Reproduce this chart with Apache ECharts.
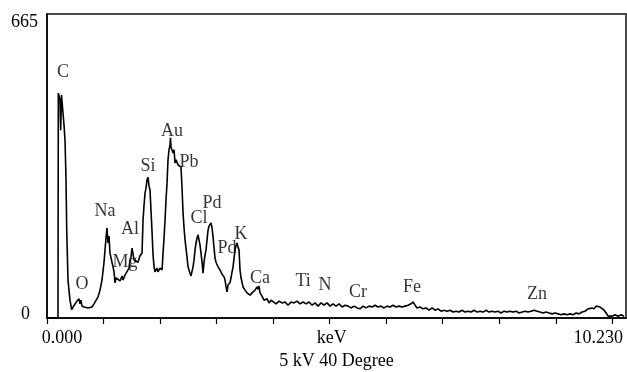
<!DOCTYPE html>
<html>
<head>
<meta charset="utf-8">
<script src="https://cdn.jsdelivr.net/npm/echarts@6/dist/echarts.min.js"></script>
<style>
  html, body { margin: 0; padding: 0; background: #fff; }
  #chart { width: 627px; height: 372px; }
</style>
</head>
<body>
<div id="chart"></div>
<script>
// spectrum (keV, count)
const energy = [
  0, 0.199, 0.205, 0.217, 0.235, 0.248, 0.262, 0.281, 0.290, 0.308, 0.326, 0.335, 0.344, 0.357, 0.380, 0.416, 0.447, 0.471, 0.507,
  0.543, 0.561, 0.579, 0.597, 0.615, 0.633, 0.670, 0.706, 0.742, 0.778, 0.814, 0.851, 0.887, 0.923, 0.959, 0.995,
  1.032, 1.050, 1.068, 1.086, 1.104, 1.122, 1.140, 1.176, 1.195, 1.213, 1.231, 1.249, 1.285, 1.321, 1.358, 1.376,
  1.412, 1.448, 1.484, 1.502, 1.520, 1.539, 1.557, 1.575, 1.611, 1.647, 1.683, 1.720, 1.738, 1.756, 1.774, 1.792,
  1.810, 1.828, 1.846, 1.864, 1.882, 1.901, 1.919, 1.937, 1.955, 1.991, 2.009, 2.045, 2.082, 2.100, 2.118, 2.136,
  2.154, 2.172, 2.190, 2.208, 2.226, 2.235, 2.244, 2.263, 2.281, 2.299, 2.317, 2.335, 2.371, 2.407, 2.425, 2.443,
  2.462, 2.480, 2.498, 2.534, 2.552, 2.570, 2.588, 2.606, 2.625, 2.643, 2.661, 2.679, 2.697, 2.715, 2.733, 2.751,
  2.769, 2.787, 2.806, 2.824, 2.842, 2.860, 2.878, 2.896, 2.914, 2.932, 2.950, 2.968, 2.987, 3.005, 3.023, 3.041,
  3.059, 3.077, 3.095, 3.131, 3.168, 3.204, 3.222, 3.240, 3.258, 3.276, 3.294, 3.312, 3.330, 3.349, 3.367, 3.385,
  3.403, 3.421, 3.439, 3.457, 3.475, 3.493, 3.511, 3.548, 3.584, 3.620, 3.656, 3.674, 3.710, 3.728, 3.765, 3.801,
  3.819, 3.837, 3.855, 3.891, 3.927, 3.945, 3.982, 4.018, 4.054, 4.090, 4.145, 4.199, 4.254, 4.308, 4.362, 4.416,
  4.471, 4.525, 4.579, 4.634, 4.688, 4.742, 4.797, 4.851, 4.905, 4.959, 5.014, 5.068, 5.122, 5.177, 5.231, 5.285,
  5.340, 5.394, 5.448, 5.502, 5.557, 5.611, 5.665, 5.720, 5.774, 5.828, 5.882, 5.937, 5.991, 6.045, 6.100, 6.154,
  6.208, 6.263, 6.317, 6.371, 6.426, 6.480, 6.534, 6.588, 6.625, 6.661, 6.697, 6.751, 6.806, 6.860, 6.914, 6.968,
  7.023, 7.077, 7.131, 7.186, 7.240, 7.294, 7.349, 7.403, 7.457, 7.512, 7.566, 7.620, 7.674, 7.729, 7.783, 7.837,
  7.892, 7.946, 8.000, 8.055, 8.109, 8.163, 8.217, 8.272, 8.326, 8.380, 8.435, 8.489, 8.543, 8.598, 8.652, 8.706,
  8.760, 8.815, 8.869, 8.923, 8.978, 9.032, 9.086, 9.141, 9.195, 9.249, 9.303, 9.358, 9.412, 9.466, 9.521, 9.575,
  9.629, 9.684, 9.738, 9.792, 9.828, 9.864, 9.901, 9.937, 9.973, 10.009, 10.045, 10.082, 10.118, 10.154, 10.190, 10.226,
  10.280, 10.335, 10.389, 10.443
];
const counts = [
  0, 0, 492, 494, 477, 411, 488, 492, 448, 422, 389, 346, 302, 192, 83, 39, 18, 24, 20,
  37, 33, 42, 31, 39, 26, 24, 28, 22, 26, 24, 31, 35, 46, 61, 83,
  122, 149, 175, 197, 164, 179, 142, 122, 112, 101, 77, 88, 90, 81, 92, 83,
  94, 98, 109, 127, 133, 153, 149, 127, 131, 122, 136, 142, 214, 247, 273, 284,
  302, 308, 289, 280, 236, 188, 138, 112, 101, 109, 101, 109, 105, 142, 175, 214,
  258, 295, 346, 368, 378, 394, 374, 378, 361, 368, 339, 346, 335, 339, 330, 287,
  230, 197, 171, 133, 112, 105, 98, 92, 88, 112, 127, 149, 164, 175, 182, 171,
  160, 142, 122, 98, 122, 138, 149, 171, 192, 201, 197, 208, 197, 177, 153, 131,
  122, 118, 112, 105, 96, 90, 83, 68, 57, 72, 68, 77, 88, 101, 112, 131,
  149, 158, 164, 155, 149, 105, 88, 68, 61, 55, 52, 50, 55, 57, 61, 68,
  63, 70, 55, 48, 39, 35, 42, 33, 39, 35, 31, 37, 33, 35, 28, 35,
  33, 37, 31, 35, 31, 35, 28, 33, 26, 33, 28, 33, 26, 31, 26, 31,
  24, 28, 26, 22, 26, 22, 20, 26, 22, 26, 24, 28, 24, 26, 22, 26,
  24, 28, 24, 26, 24, 26, 28, 31, 35, 28, 22, 24, 20, 22, 17, 22,
  17, 20, 15, 17, 15, 17, 13, 15, 13, 17, 13, 15, 13, 17, 13, 15,
  13, 17, 13, 15, 13, 15, 11, 15, 13, 15, 13, 15, 11, 13, 15, 13,
  15, 17, 15, 13, 11, 13, 11, 9, 11, 9, 7, 9, 7, 9, 7, 11,
  9, 13, 15, 20, 17, 22, 20, 26, 28, 24, 26, 17, 11, 4, 0, 4,
  7, 4, 7, 4
];

// element tags, placed at (keV, count)
const elementNames = ['C', 'O', 'Na', 'Mg', 'Al', 'Si', 'Au', 'Pb', 'Cl', 'Pd', 'Pd', 'K', 'Ca', 'Ti', 'N', 'Cr', 'Fe', 'Zn'];
const elementKeV = [0.290, 0.633, 1.050, 1.412, 1.502, 1.828, 2.263, 2.570, 2.751, 2.987, 3.258, 3.511, 3.855, 4.634, 5.032, 5.629, 6.607, 8.869];
const elementCount = [538, 74, 234, 122, 195, 332, 409, 341, 219, 252, 153, 184, 88, 81, 72, 57, 68, 53];

const xTickStep = 1.023;
const xMax = 10.478;
const yMax = 665;

const font = "'Liberation Serif', 'Times New Roman', serif";

const chart = echarts.init(document.getElementById('chart'), null, { renderer: 'canvas' });

const option = {
  backgroundColor: '#fff',
  animation: false,
  textStyle: { fontFamily: font },
  grid: {
    left: 47, right: 1, top: 14, bottom: 54,
    outerBoundsMode: 'none',
    containLabel: false,
    show: true, borderColor: '#4a4a4a', borderWidth: 2, backgroundColor: 'transparent'
  },
  xAxis: {
    type: 'value',
    min: 0, max: xMax, interval: xTickStep,
    name: '5 kV 40 Degree',
    nameLocation: 'middle',
    nameGap: 34,
    nameTextStyle: { fontFamily: font, fontSize: 18, color: '#000' },
    axisLine: { show: true, lineStyle: { color: '#000', width: 1.5 } },
    axisTick: { show: true, length: 6, lineStyle: { color: '#000', width: 1.2 } },
    splitLine: { show: false },
    axisLabel: {
      fontFamily: font, fontSize: 18, color: '#000', margin: 11,
      showMaxLabel: false,
      formatter: function (v) {
        const i = Math.round(v / xTickStep);
        if (i === 0) return '{l|0.000}';
        if (i === 5) return '{m|keV}';
        if (i === 10) return '{r|10.230}';
        return '';
      },
      rich: {
        l: { fontFamily: font, fontSize: 18, color: '#000', padding: [0, 0, 0, 30] },
        m: { fontFamily: font, fontSize: 18, color: '#000', padding: [0, 0, 0, 4] },
        r: { fontFamily: font, fontSize: 18, color: '#000', padding: [0, 28, 0, 0] }
      }
    }
  },
  yAxis: {
    type: 'value',
    min: 0, max: yMax, interval: yMax,
    name: 'Count',
    nameLocation: 'middle',
    nameGap: 16,
    nameTextStyle: { fontFamily: font, fontSize: 18, color: '#000' },
    axisLine: { show: true, lineStyle: { color: '#000', width: 1.5 } },
    axisTick: { show: false },
    splitLine: { show: false },
    axisLabel: {
      fontFamily: font, fontSize: 18, color: '#000', margin: 9,
      formatter: function (v) {
        return v === 0 ? '{z|0}' : '{t|665}';
      },
      rich: {
        z: { fontFamily: font, fontSize: 18, color: '#000', padding: [0, 8, 8, 0] },
        t: { fontFamily: font, fontSize: 18, color: '#000', padding: [16, 0, 0, 0] }
      }
    }
  },
  series: [
    {
      type: 'line',
      data: energy.map((e, i) => [e, counts[i]]),
      showSymbol: false,
      lineStyle: { color: '#000', width: 1.6 },
      z: 3
    },
    {
      type: 'scatter',
      data: elementNames.map((n, i) => ({ name: n, value: [elementKeV[i], elementCount[i]] })),
      symbolSize: 0,
      silent: true,
      itemStyle: { color: '#000' },
      label: {
        show: true,
        position: 'inside',
        formatter: p => p.name,
        fontFamily: font, fontSize: 18, color: '#000',
        textBorderWidth: 0
      },
      z: 4
    }
  ]
};

chart.setOption(option);
</script>
</body>
</html>
